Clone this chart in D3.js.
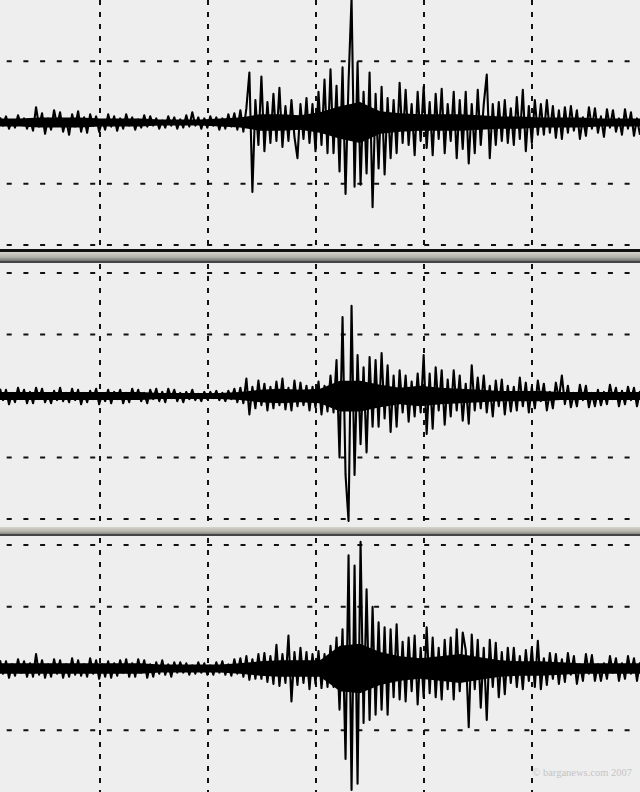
<!DOCTYPE html>
<html>
<head>
<meta charset="utf-8">
<script src="https://cdn.jsdelivr.net/npm/d3@7"></script>
<style>
body { margin: 0; background: #eeeeee; overflow: hidden; }
svg { display: block; }
</style>
</head>
<body>
<script>
// amplitudes, one sample every ~3px, up = positive
var trace1 = [
  5,-3,6,-6,2,-5,7,-2,4,-6,
  3,-8,15,-4,9,-11,4,-7,12,-3,
  10,-9,3,-12,8,-4,11,-9,5,-10,
  8,-3,6,-9,2,-7,8,-4,6,-8,
  4,-6,8,-3,5,-7,3,-5,7,-4,
  6,-3,4,-6,2,-5,6,-3,5,-6,
  3,-5,7,-4,10,-3,5,-6,4,-5,
  6,-3,5,-7,4,-6,8,-4,9,-7,
  12,-9,14,49,-68,22,-22,45,-28,20,
  -20,28,-18,34,-24,16,-18,22,-14,-35,
  18,-16,24,-20,18,-28,30,-22,42,-30,
  52,-30,36,-48,54,-70,40,122,-63,59,
  -61,30,-50,49,-83,28,-45,35,-51,24,
  -35,22,-30,39,-20,32,-22,18,-32,30,
  -18,35,-25,20,-32,28,-16,33,-30,18,
  -18,30,-35,22,-26,30,-40,18,-30,32,
  -22,18,47,-35,18,-22,20,-18,22,-20,
  14,-22,25,-16,32,-28,16,-20,22,-12,
  18,-12,22,-10,16,-15,12,-16,15,-10,
  16,-8,12,-16,5,-13,15,-6,14,-10,
  6,-14,13,-5,12,-9,4,-12,13,-6,
  10,-13,4,-12
];
var trace2 = [
  7,-4,6,-8,3,-6,8,-3,6,-7,
  4,-7,8,-3,7,-6,2,-7,5,-4,
  8,-5,3,-6,7,-4,6,-8,3,-6,
  5,-3,7,-8,2,-5,6,-7,4,-3,
  6,-7,3,-6,7,-2,6,-5,3,-7,
  6,-3,7,-5,4,-6,7,-2,6,-5,
  3,-6,4,-3,6,-4,2,-5,4,-3,
  4,-2,5,-4,3,-5,5,-3,7,-6,
  8,-7,17,-18,9,-12,15,-9,12,-14,
  9,-12,14,-9,17,-13,8,-14,15,-10,
  13,-9,10,-14,9,-11,14,-18,10,-15,
  20,-16,35,-60,77,-77,-122,88,-77,40,
  -47,28,-55,38,-30,35,-30,42,-22,30,
  -35,20,-30,25,-16,20,-25,14,-20,22,
  -16,40,-37,22,-32,28,-14,25,-28,16,
  -20,25,-14,20,-24,12,-27,30,-14,18,
  -12,20,-16,10,-20,15,-10,16,-18,10,
  -15,9,-14,18,-10,13,-16,9,-12,15,
  -5,12,-14,4,-12,13,-3,20,-8,10,
  -11,3,-10,11,-4,10,-11,3,-10,6,
  -9,4,-8,11,-3,8,-10,5,-8,9,
  -4,8,-10,5
];
var trace3 = [
  8,-5,7,-9,4,-7,9,-4,7,-8,
  5,-8,14,-6,8,-9,4,-8,9,-5,
  8,-9,4,-8,10,-6,8,-7,4,-8,
  10,-5,8,-10,4,-8,7,-9,5,-7,
  8,-4,9,-8,5,-8,9,-4,8,-9,
  4,-8,6,-5,8,-6,4,-8,6,-4,
  6,-4,5,-6,3,-5,6,-4,5,-6,
  3,-6,6,-4,7,-6,4,-7,9,-5,
  10,-8,12,-11,9,-10,14,-10,15,-13,
  12,-15,23,-17,14,-14,32,-32,16,-16,
  20,-14,16,-20,14,-15,17,-19,14,-18,
  22,-18,30,-40,38,-88,110,-118,100,-112,
  123,-53,77,-50,60,-45,45,-40,40,-45,
  38,-28,43,-30,26,-32,30,-22,32,-35,
  20,-28,40,-24,30,-28,20,-30,28,-20,
  30,-30,38,-22,35,18,-57,33,-20,28,
  -38,20,-50,28,-18,25,-28,16,-25,20,
  -14,20,-18,12,-20,18,-12,20,-18,27,
  -20,10,-16,15,-10,14,-15,9,-13,15,
  -6,12,-15,4,-12,14,-5,13,-12,4,
  -12,5,-10,12,-4,10,-12,5,-10,12,
  -5,10,-12,6
];
// half-width of the solid black core of each trace, one value every ~20px
var core1 = [4,4,5,5,5,4,4,4,3,3,3,4,5,8,8,7,10,16,20,11,9,8,8,8,7,6,6,5,5,5,4,4,4];
var core2 = [4,4,4,4,4,4,4,4,3,3,3,3,4,6,7,6,7,15,15,11,8,10,8,7,6,5,5,5,4,4,4,4,4];
var core3 = [5,5,5,5,5,5,5,5,4,4,4,4,5,7,8,8,8,22,24,16,12,10,12,14,11,8,7,7,6,5,5,5,5];

var minuteTicks = [1, 2, 3, 4, 5];     // vertical grid
var ampTicks = [-120, -60, 60, 120];   // horizontal grid
var timeStart = 0.074, timeEnd = 6.0;  // minutes shown across the page
var credit = "\u00a9 barganews.com 2007";

var width = 640, height = 792;

var svg = d3.select("body").append("svg")
    .attr("width", width)
    .attr("height", height);

svg.append("rect")
    .attr("width", width)
    .attr("height", height)
    .attr("fill", "#eeeeee");

var x = d3.scaleLinear().domain([timeStart, timeEnd]).range([0, width]);

// the three panels, top to bottom
var panels = [
  {data: trace1, core: core1, top: 0,   bottom: 245, gTop: 0,   gBottom: 248},
  {data: trace2, core: core2, top: 273, bottom: 519, gTop: 264, gBottom: 524},
  {data: trace3, core: core3, top: 545, bottom: 792, gTop: 538, gBottom: 792}
];

panels.forEach(function(p) {
  var y = d3.scaleLinear().domain([-120, 120]).range([p.bottom, p.top]);
  var timeAt = function(n) {
    return function(i) { return timeStart + i * (timeEnd - timeStart) / (n - 1); };
  };
  var t = timeAt(p.data.length), tc = timeAt(p.core.length);

  var g = svg.append("g");

  // horizontal grid
  g.selectAll(".hgrid")
    .data(ampTicks.filter(function(d) { var v = y(d); return v > 1 && v < height - 1; }))
    .enter().append("line")
      .attr("class", "hgrid")
      .attr("x1", 0)
      .attr("x2", width)
      .attr("y1", function(d) { return y(d); })
      .attr("y2", function(d) { return y(d); })
      .attr("stroke", "#111")
      .attr("stroke-width", 2)
      .attr("stroke-dasharray", "5,11.7")
      .attr("stroke-dashoffset", 10);

  // vertical grid
  g.selectAll(".vgrid")
    .data(minuteTicks)
    .enter().append("line")
      .attr("class", "vgrid")
      .attr("x1", function(d) { return x(d); })
      .attr("x2", function(d) { return x(d); })
      .attr("y1", p.gTop)
      .attr("y2", p.gBottom)
      .attr("stroke", "#111")
      .attr("stroke-width", 2)
      .attr("stroke-dasharray", "5,7");

  // dense core of the trace
  var area = d3.area()
    .x(function(d, i) { return x(tc(i)); })
    .y0(function(d) { return y(-d); })
    .y1(function(d) { return y(d); });

  g.append("path")
    .datum(p.core)
    .attr("d", area)
    .attr("fill", "#000");

  var line = d3.line()
    .x(function(d, i) { return x(t(i)); })
    .y(function(d) { return y(d); });

  g.append("path")
    .datum(p.data)
    .attr("d", line)
    .attr("fill", "none")
    .attr("stroke", "#000")
    .attr("stroke-width", 2.1)
    .attr("stroke-linejoin", "round");
});

// separator bars between the panels
var defs = svg.append("defs");
var grad = defs.append("linearGradient")
    .attr("id", "bar")
    .attr("x1", 0).attr("y1", 0).attr("x2", 0).attr("y2", 1);
grad.append("stop").attr("offset", "0%").attr("stop-color", "#d4d4cc");
grad.append("stop").attr("offset", "55%").attr("stop-color", "#b4b4ac");
grad.append("stop").attr("offset", "100%").attr("stop-color", "#707070");

svg.append("rect").attr("x", 0).attr("y", 249).attr("width", width).attr("height", 3).attr("fill", "#111");
svg.append("rect").attr("x", 0).attr("y", 252).attr("width", width).attr("height", 9).attr("fill", "url(#bar)");
svg.append("rect").attr("x", 0).attr("y", 261).attr("width", width).attr("height", 2).attr("fill", "#444");

svg.append("rect").attr("x", 0).attr("y", 527).attr("width", width).attr("height", 8).attr("fill", "url(#bar)");
svg.append("rect").attr("x", 0).attr("y", 534).attr("width", width).attr("height", 2).attr("fill", "#444");

svg.append("text")
    .attr("x", 632)
    .attr("y", 776)
    .attr("text-anchor", "end")
    .attr("font-family", "Liberation Serif, serif")
    .attr("font-size", 10.5)
    .attr("fill", "#c4c4c4")
    .text(credit);
</script>
</body>
</html>
